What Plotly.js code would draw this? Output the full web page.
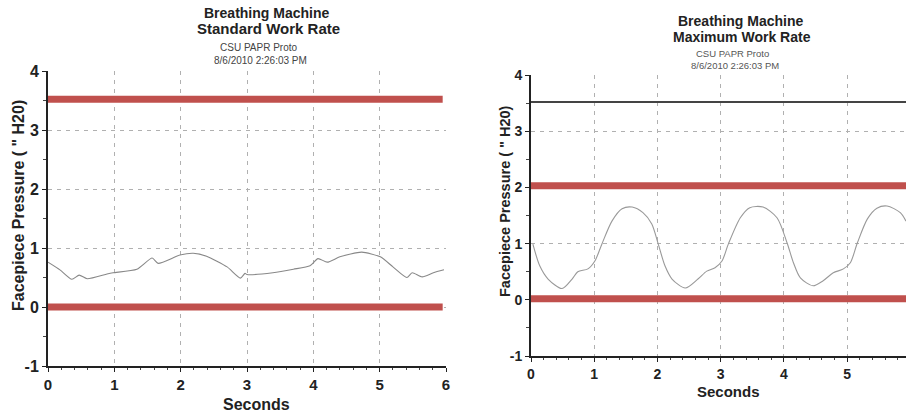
<!DOCTYPE html>
<html>
<head>
<meta charset="utf-8">
<script src="https://cdn.plot.ly/plotly-3.0.1.min.js"></script>
<style>html,body{margin:0;padding:0;background:#fff;}#chart{width:906px;height:414px;}</style>
</head>
<body>
<div id="chart"></div>
<script>
// Standard work rate trace (seconds, inches H2O)
const stdSeconds = [0, 0.18, 0.36, 0.47, 0.59, 0.89, 0.98, 1.34, 1.57, 1.66, 1.99, 2.19, 2.39, 2.70, 2.90, 2.97, 3.00, 3.39, 3.70, 3.95, 4.07, 4.21, 4.40, 4.73, 5.01, 5.20, 5.41, 5.49, 5.64, 5.81, 5.97];
const stdPressure = [0.76, 0.63, 0.47, 0.54, 0.48, 0.56, 0.58, 0.64, 0.83, 0.74, 0.88, 0.91, 0.86, 0.68, 0.49, 0.57, 0.55, 0.58, 0.64, 0.70, 0.82, 0.76, 0.85, 0.93, 0.85, 0.68, 0.50, 0.58, 0.51, 0.58, 0.63];
// Maximum work rate trace
const maxSeconds = [0.03, 0.14, 0.27, 0.49, 0.65, 0.74, 0.90, 1.01, 1.12, 1.28, 1.44, 1.60, 1.77, 1.91, 2.01, 2.12, 2.23, 2.44, 2.64, 2.78, 2.91, 3.02, 3.12, 3.31, 3.46, 3.67, 3.89, 4.05, 4.15, 4.26, 4.46, 4.62, 4.78, 4.94, 5.05, 5.16, 5.32, 5.47, 5.63, 5.84, 5.93];
const maxPressure = [0.99, 0.60, 0.37, 0.20, 0.37, 0.50, 0.55, 0.69, 0.99, 1.40, 1.62, 1.65, 1.55, 1.35, 1.00, 0.60, 0.37, 0.21, 0.37, 0.51, 0.57, 0.69, 0.99, 1.46, 1.64, 1.65, 1.46, 1.01, 0.66, 0.39, 0.25, 0.34, 0.48, 0.55, 0.66, 1.01, 1.44, 1.63, 1.67, 1.55, 1.40];
// Limit lines
const stdLimitX = [0, 5.95];
const stdUpperLimit = [3.52, 3.52];
const stdLowerLimit = [0, 0];
const maxLimitX = [0, 5.93];
const maxBlackLine = [3.52, 3.52];
const maxUpperLimit = [2.03, 2.03];
const maxLowerLimit = [0.02, 0.02];
const xTicks = [0, 1, 2, 3, 4, 5, 6];
const yTicks = [-1, 0, 1, 2, 3, 4];

const RED = '#c0504d';
const traces = [
  {x: stdSeconds, y: stdPressure, xaxis: 'x', yaxis: 'y', mode: 'lines', line: {color: '#888', width: 1.1, shape: 'spline', smoothing: 0.6}},
  {x: stdLimitX, y: stdUpperLimit, xaxis: 'x', yaxis: 'y', mode: 'lines', line: {color: RED, width: 7}},
  {x: stdLimitX, y: stdLowerLimit, xaxis: 'x', yaxis: 'y', mode: 'lines', line: {color: RED, width: 7}},
  {x: maxSeconds, y: maxPressure, xaxis: 'x2', yaxis: 'y2', mode: 'lines', line: {color: '#999', width: 1.1, shape: 'spline', smoothing: 0.8}},
  {x: maxLimitX, y: maxBlackLine, xaxis: 'x2', yaxis: 'y2', mode: 'lines', line: {color: '#444', width: 1.8}},
  {x: maxLimitX, y: maxUpperLimit, xaxis: 'x2', yaxis: 'y2', mode: 'lines', line: {color: RED, width: 7}},
  {x: maxLimitX, y: maxLowerLimit, xaxis: 'x2', yaxis: 'y2', mode: 'lines', line: {color: RED, width: 7}}
];

const FF = 'Liberation Sans, Arial, sans-serif';
const GRID = '#b0b0b0';
function xax(domain, range, size, anchor) {
  return {
    domain: domain, range: range, anchor: anchor, tickvals: xTicks, ticktext: xTicks.map(String),
    showline: true, linecolor: '#222', linewidth: 2, mirror: false,
    showgrid: true, gridcolor: GRID, griddash: '4px,5px', gridwidth: 1,
    zeroline: false, ticks: 'outside', ticklen: 4, tickcolor: '#222',
    minor: {ticks: 'outside', ticklen: 2, dtick: 0.2, tickcolor: '#444', showgrid: false},
    tickfont: {family: FF, size: size, color: '#222', weight: 'bold'}
  };
}
function yax(domain, size, anchor) {
  return {
    domain: domain, range: [-1, 4], anchor: anchor, tickvals: yTicks, ticktext: yTicks.map(String),
    showline: true, linecolor: '#222', linewidth: 2,
    showgrid: true, gridcolor: GRID, griddash: '4px,5px', gridwidth: 1,
    zeroline: false, ticks: 'outside', ticklen: 4, tickcolor: '#222',
    minor: {ticks: 'outside', ticklen: 3, dtick: 0.5, tickcolor: '#444', showgrid: false},
    tickfont: {family: FF, size: size, color: '#222', weight: 'bold'}
  };
}

function txt(x, y, text, size, color, weight, angle) {
  return {xref: 'paper', yref: 'paper', x: x / 906, y: 1 - y / 414, xanchor: 'center', yanchor: 'middle',
    text: text, showarrow: false, textangle: angle || 0,
    font: {family: FF, size: size, color: color, weight: weight || 'normal'}};
}

const layout = {
  width: 906, height: 414, margin: {l: 0, r: 0, t: 0, b: 0},
  paper_bgcolor: '#fff', plot_bgcolor: '#fff', showlegend: false,
  xaxis: xax([48 / 906, 446 / 906], [0, 6], 15, 'y'),
  yaxis: yax([48 / 414, 343 / 414], 16, 'x'),
  xaxis2: xax([531 / 906, 1], [0, 5.93], 14, 'y2'),
  yaxis2: yax([58 / 414, 339 / 414], 14, 'x2'),
  annotations: [
    txt(266, 13, 'Breathing Machine', 14, '#222', 'bold'),
    txt(268, 29, 'Standard Work Rate', 15, '#222', 'bold'),
    txt(258, 48, 'CSU PAPR Proto', 10, '#444'),
    txt(260, 61, '8/6/2010 2:26:03 PM', 10, '#444'),
    txt(256, 404, 'Seconds', 16, '#222', 'bold'),
    txt(18, 206, 'Facepiece Pressure ( " H20)', 16, '#222', 'bold', -90),
    txt(740, 21, 'Breathing Machine', 14, '#222', 'bold'),
    txt(742, 37, 'Maximum Work Rate', 14, '#222', 'bold'),
    txt(732, 53, 'CSU PAPR Proto', 9.5, '#555'),
    txt(735, 65, '8/6/2010 2:26:03 PM', 9.5, '#555'),
    txt(728, 391, 'Seconds', 15, '#222', 'bold'),
    txt(505, 201, 'Facepiece Pressure ( " H20)', 14.5, '#222', 'bold', -90)
  ]
};

Plotly.newPlot('chart', traces, layout, {staticPlot: true, displayModeBar: false});
</script>
</body>
</html>
